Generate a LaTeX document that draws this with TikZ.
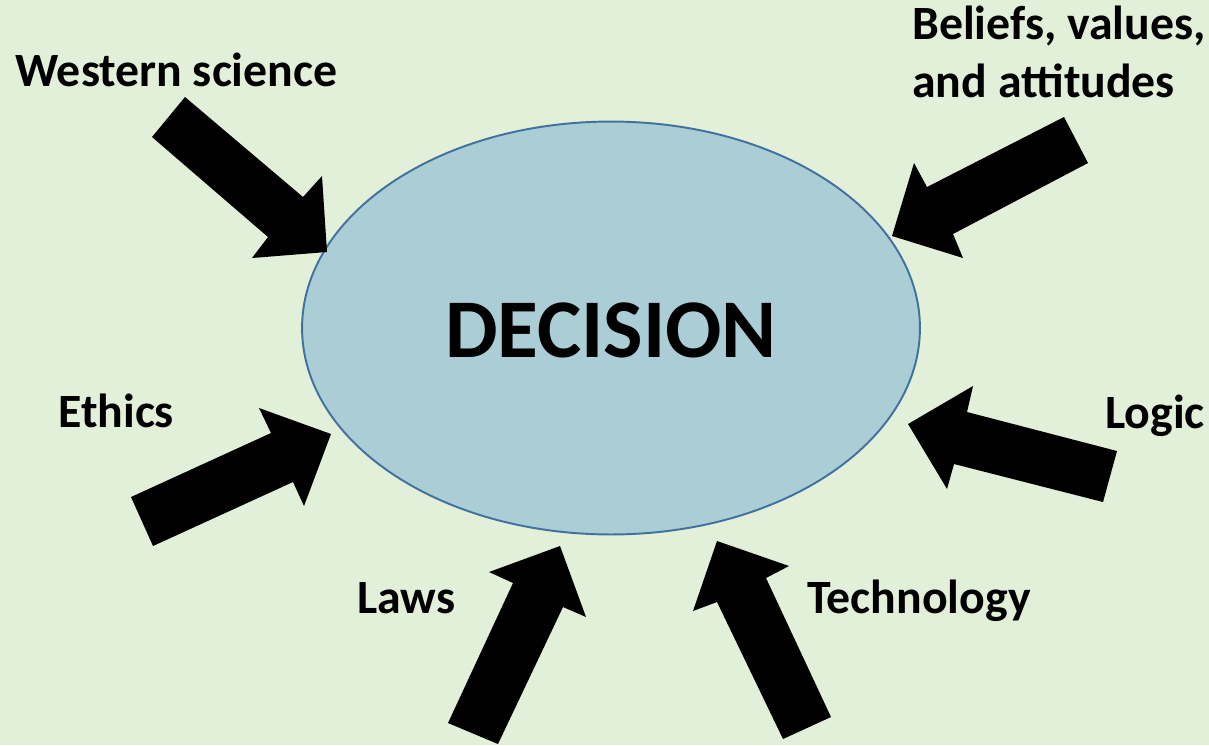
\documentclass[tikz,border=0pt]{standalone}
\usepackage{fontspec}
\setmainfont{Carlito}
\usepackage{tikz}
\usetikzlibrary{shapes}
\definecolor{slidebg}{HTML}{E2EFD9}
\definecolor{bubble}{HTML}{AACDD6}
\definecolor{bubbleline}{HTML}{41719C}

\begin{document}
\begin{tikzpicture}[x=0.02cm,y=-0.02cm]
\tikzstyle{factor}=[anchor=base west,inner sep=0pt,align=left,font=\fontsize{27.2}{32.9}\selectfont\bfseries]
\tikzstyle{blockarrow}=[fill=black]
\fill[slidebg] (0,0) rectangle (1209,745);
\useasboundingbox (0,0) rectangle (1209,745);
\node[ellipse,draw=bubbleline,line width=1.1pt,fill=bubble,inner sep=0pt,
  minimum width=12.36cm,minimum height=8.26cm] (decision) at (611,328) {};
\node[anchor=base,inner sep=0pt,font=\fontsize{47.5}{56}\selectfont\bfseries] (dlabel) at (611,357) {DECISION};
% labels
\node[factor] (science) at (15,86) {Western science};
\node[factor] (beliefs) at (912,97) {Beliefs, values,\\and attitudes};
\node[factor] (ethics) at (58,427) {Ethics};
\node[factor] (logic) at (1105,428) {Logic};
\node[factor] (laws) at (357,613) {Laws};
\node[factor] (tech) at (807,613) {Technology};
% block arrows pointing into the decision
\fill[blockarrow] (185,97) -- (303,197) -- (322,176) -- (327,252) -- (252,258) -- (268,237) -- (152,137) -- cycle;
\fill[blockarrow] (1064,117) -- (1088,163) -- (953,234) -- (963,258) -- (892,236) -- (914,163) -- (927,187) -- cycle;
\fill[blockarrow] (331,434) -- (304,506) -- (293,482) -- (153,546) -- (131,497) -- (271,433) -- (259,408) -- cycle;
\fill[blockarrow] (908,424) -- (973,386) -- (967,412) -- (1117,451) -- (1103,502) -- (954,464) -- (947,489) -- cycle;
\fill[blockarrow] (560,546) -- (586,617) -- (563,607) -- (498,744) -- (448,723) -- (513,583) -- (489,572) -- cycle;
\fill[blockarrow] (717,541) -- (789,566) -- (766,578) -- (831,717) -- (783,739) -- (717,602) -- (693,611) -- cycle;
\end{tikzpicture}
\end{document}
